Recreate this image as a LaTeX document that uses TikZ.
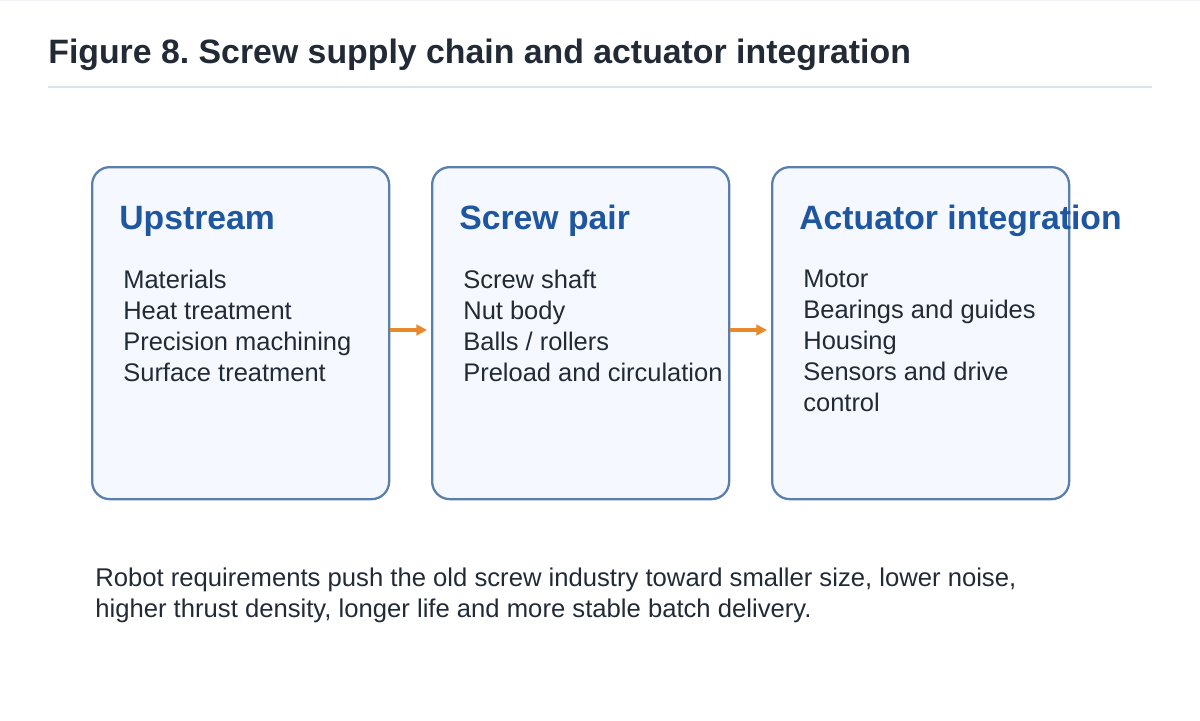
\documentclass[tikz,border=0pt]{standalone}
\usepackage{fontspec}
\setmainfont{Liberation Sans}
\frenchspacing
\usetikzlibrary{positioning,arrows.meta}
\definecolor{ink}{HTML}{222A36}
\definecolor{headblue}{HTML}{1F56A0}
\definecolor{boxline}{HTML}{5B7FAD}
\definecolor{boxfill}{HTML}{F5F9FF}
\definecolor{flow}{HTML}{E8892B}
\definecolor{rule}{HTML}{DDE3EE}
\definecolor{gridc}{HTML}{F1F3F7}
\begin{document}
\begin{tikzpicture}[x=0.02cm,y=-0.02cm,
  stage/.style={draw=boxline,line width=1.3pt,fill=boxfill,rounded corners=10pt,
    minimum width=297*0.02cm,minimum height=332*0.02cm,inner sep=0pt,anchor=north west},
  head/.style={font=\fontsize{19.2}{22}\selectfont\bfseries,text=headblue,anchor=west,inner sep=0pt},
  items/.style={font=\fontsize{14.5}{17.6}\selectfont,text=ink,anchor=north west,align=left,inner sep=0pt},
  flowarrow/.style={draw=flow,line width=1.8pt,-{Triangle[length=6pt,width=6pt]},shorten >=4*0.02cm}]
  % frame and grid
  \useasboundingbox (0,0) rectangle (1200,720);
  \draw[gridc,step=60*0.02cm] (0,0) grid (1200,-720);
  % title
  \node[anchor=west,inner sep=0pt,font=\fontsize{19.25}{23}\selectfont\bfseries,text=ink] (title) at (48,55)
    {Figure 8. Screw supply chain and actuator integration};
  \draw[rule,line width=0.8pt] (48,87) -- (1152,87);

  % stages
  \node[stage] (up) at (91,166) {};
  \node[stage] (pair) at (431,166) {};
  \node[stage] (act) at (771,166) {};

  \node[head] (uphead) at (119,221) {Upstream};
  \node[head] (pairhead) at (459,221) {Screw pair};
  \node[head] (acthead) at (799,221) {Actuator integration};

  \node[items] (upitems) at (123,270) {Materials\\Heat treatment\\Precision machining\\Surface treatment};
  \node[items] (pairitems) at (463,270) {Screw shaft\\Nut body\\Balls / rollers\\Preload and circulation};
  \node[items] (actitems) at (803,270) {Motor\\Bearings and guides\\Housing\\Sensors and drive\\control};

  \draw[flowarrow] (up.east |- 0,330) -- (pair.west |- 0,330);
  \draw[flowarrow] (pair.east |- 0,330) -- (act.west |- 0,330);

  % note
  \node[anchor=north west,inner sep=0pt,align=left,font=\fontsize{14.6}{17.2}\selectfont,text=ink] (note) at (95,568)
    {Robot requirements push the old screw industry toward smaller size, lower noise,\\higher thrust density, longer life and more stable batch delivery.};
\end{tikzpicture}
\end{document}
